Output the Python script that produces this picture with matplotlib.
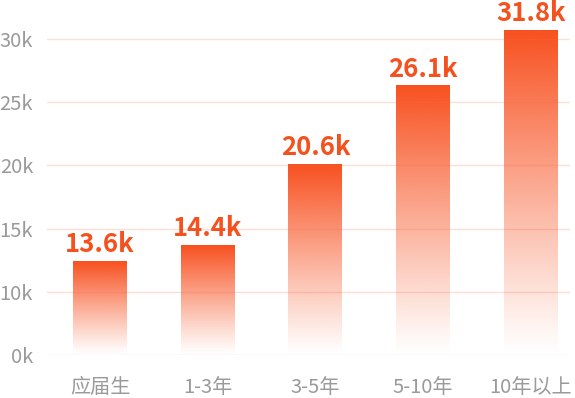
import numpy as np
import matplotlib.pyplot as plt
from matplotlib.colors import to_rgb

plt.rcParams['font.family'] = ['Noto Sans CJK SC', 'DejaVu Sans']

categories = ['应届生', '1-3年', '3-5年', '5-10年', '10年以上']
value_labels = ['13.6k', '14.4k', '20.6k', '26.1k', '31.8k']
# bar tops as drawn in the picture, read against the gridlines (k)
bar_tops = [12.4, 13.7, 20.1, 26.3, 30.7]
tick_pos = [5, 10, 15, 20, 25, 30]
tick_labels = ['0k', '10k', '15k', '20k', '25k', '30k']

bar_color = '#F8501F'
y_base = 5

fig = plt.figure(figsize=(5.75, 3.98), dpi=100)
ax = fig.add_axes([47 / 575, 43 / 398, 523 / 575, 355 / 398])

x = np.arange(len(categories))
width = 0.5
bars = ax.bar(x, np.array(bar_tops) - y_base, bottom=y_base, width=width,
              color='none', edgecolor='none')

# vertical gradient: solid at top, fading to white at the base
rgb = to_rgb(bar_color)
n = 256
grad = np.zeros((n, 1, 4))
grad[:, 0, :3] = rgb
grad[:, 0, 3] = np.linspace(1.0, 0.0, n) ** 1.1
for b in bars:
    x0, y0 = b.get_x(), b.get_y()
    ax.imshow(grad, extent=[x0, x0 + b.get_width(), y0, y0 + b.get_height()],
              aspect='auto', origin='upper', zorder=2, interpolation='bilinear')

for xi, top, lab in zip(x, bar_tops, value_labels):
    ax.text(xi, top + 0.25, lab, ha='center', va='bottom', fontsize=18.5,
            fontweight='bold', color='#F4511E', zorder=4, clip_on=False)

for yv in tick_pos:
    ax.axhline(yv, color='#F76A4A', alpha=0.22, linewidth=1.0, zorder=3)

ax.set_xlim(-0.492, 4.364)
ax.set_ylim(y_base, 33.1)
ax.set_yticks(tick_pos)
ax.set_yticklabels(tick_labels)
ax.set_xticks(x)
ax.set_xticklabels(categories)
ax.tick_params(axis='both', length=0, labelsize=14.5, colors='#9a9a9a')
ax.tick_params(axis='y', pad=10)
ax.tick_params(axis='x', pad=16)
for s in ax.spines.values():
    s.set_visible(False)

fig.savefig('out.png', dpi=100)
